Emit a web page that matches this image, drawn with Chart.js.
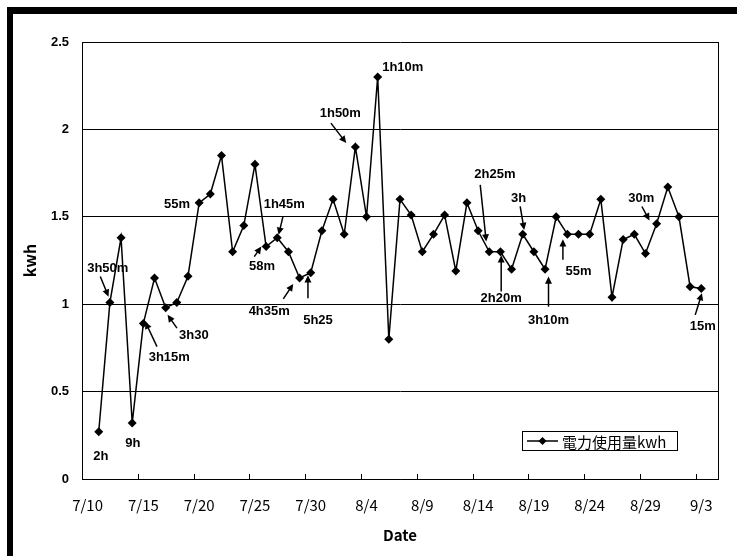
<!DOCTYPE html>
<html>
<head>
<meta charset="utf-8">
<script src="https://cdn.jsdelivr.net/npm/chart.js@4/dist/chart.umd.min.js"></script>
<style>
  body { margin: 0; background: #fff; }
  #wrap { position: relative; width: 737px; height: 556px; overflow: hidden; }
  #frame { position: absolute; left: 7px; top: 7px; width: 740px; height: 560px;
           border-left: 6px solid #000; border-top: 7px solid #000; }
  #c { position: absolute; left: 0; top: 0; }
</style>
</head>
<body>
<div id="wrap">
  <div id="frame"></div>
  <canvas id="c" width="737" height="556"></canvas>
</div>
<script>
// one category per day, 7/10 .. 9/4
var dates = ['7/10','7/11','7/12','7/13','7/14','7/15','7/16','7/17','7/18','7/19','7/20',
  '7/21','7/22','7/23','7/24','7/25','7/26','7/27','7/28','7/29','7/30','7/31',
  '8/1','8/2','8/3','8/4','8/5','8/6','8/7','8/8','8/9','8/10','8/11','8/12','8/13','8/14',
  '8/15','8/16','8/17','8/18','8/19','8/20','8/21','8/22','8/23','8/24','8/25','8/26','8/27',
  '8/28','8/29','8/30','8/31','9/1','9/2','9/3','9/4'];

// daily power use (kwh)
var usage = [null, 0.27, 1.01, 1.38, 0.32, 0.89, 1.15, 0.98, 1.01, 1.16, 1.58,
  1.63, 1.85, 1.30, 1.45, 1.80, 1.33, 1.38, 1.30, 1.15, 1.18,
  1.42, 1.60, 1.40, 1.90, 1.50, 2.30, 0.80, 1.60, 1.51, 1.30,
  1.40, 1.51, 1.19, 1.58, 1.42, 1.30, 1.30, 1.20, 1.40, 1.30,
  1.20, 1.50, 1.40, 1.40, 1.40, 1.60, 1.04, 1.37, 1.40, 1.29,
  1.46, 1.67, 1.50, 1.10, 1.09, null];

var yTicks = [0, 0.5, 1, 1.5, 2, 2.5];
var labelEvery = 5;
var seriesName = '電力使用量kwh';

// usage-time notes: text spot and optional arrow, in (category index, kwh)
var notes = [
  {text: '3h50m', at: [1.81, 1.206], arrow: [[1.14, 1.158], [1.88, 1.043]]},
  {text: '2h',    at: [1.18, 0.128]},
  {text: '9h',    at: [4.05, 0.206]},
  {text: '3h15m', at: [7.32, 0.693], arrow: [[6.22, 0.757], [5.17, 0.900]]},
  {text: '3h30',  at: [9.52, 0.824], arrow: [[8.01, 0.863], [7.17, 0.939]]},
  {text: '55m',   at: [8.01, 1.568]},
  {text: '1h45m', at: [17.63, 1.568], arrow: [[17.51, 1.501], [17.12, 1.397]]},
  {text: '58m',   at: [15.63, 1.215], arrow: [[14.94, 1.272], [15.57, 1.330]]},
  {text: '4h35m', at: [16.28, 0.958], arrow: [[17.54, 1.030], [18.43, 1.116]]},
  {text: '5h25',  at: [20.65, 0.910], arrow: [[19.75, 1.034], [19.75, 1.165]]},
  {text: '1h50m', at: [22.65, 2.093], arrow: [[21.81, 2.036], [23.18, 1.922]]},
  {text: '1h10m', at: [28.25, 2.354]},
  {text: '2h25m', at: [36.51, 1.740], arrow: [[35.19, 1.683], [35.73, 1.358]]},
  {text: '2h20m', at: [37.07, 1.034], arrow: [[37.07, 1.072], [37.07, 1.280]]},
  {text: '3h',    at: [38.62, 1.607], arrow: [[38.77, 1.559], [39.13, 1.425]]},
  {text: '3h10m', at: [41.31, 0.910], arrow: [[41.31, 0.986], [41.31, 1.158]]},
  {text: '55m',   at: [44.0, 1.187],  arrow: [[42.6, 1.254], [42.6, 1.372]]},
  {text: '30m',   at: [49.62, 1.607], arrow: [[49.68, 1.559], [50.36, 1.479]]},
  {text: '15m',   at: [55.13, 0.872], arrow: [[54.46, 0.939], [55.06, 1.063]]}
];

function arrow(ctx, x1, y1, x2, y2) {
    var a = Math.atan2(y2 - y1, x2 - x1);
    var h = 8;
    ctx.beginPath();
    ctx.moveTo(x1, y1);
    ctx.lineTo(x2 - Math.cos(a) * h * 0.7, y2 - Math.sin(a) * h * 0.7);
    ctx.stroke();
    ctx.beginPath();
    ctx.moveTo(x2, y2);
    ctx.lineTo(x2 - h * Math.cos(a - 0.45), y2 - h * Math.sin(a - 0.45));
    ctx.lineTo(x2 - h * Math.cos(a + 0.45), y2 - h * Math.sin(a + 0.45));
    ctx.closePath();
    ctx.fill();
}

var extras = {
    id: 'extras',
    afterDraw: function(chart) {
        var ctx = chart.ctx, area = chart.chartArea;
        var x = chart.scales.x, y = chart.scales.y;
        ctx.save();
        ctx.strokeStyle = '#000';
        ctx.fillStyle = '#000';
        ctx.lineWidth = 1;

        // plot frame right side
        ctx.beginPath();
        ctx.moveTo(area.right + 0.5, area.top);
        ctx.lineTo(area.right + 0.5, area.bottom);
        ctx.stroke();

        // inside tick marks on the date axis, between categories
        for (var i = labelEvery; i < dates.length; i += labelEvery) {
            var px = Math.round((x.getPixelForValue(i - 1) + x.getPixelForValue(i)) / 2) + 0.5;
            ctx.beginPath();
            ctx.moveTo(px, area.bottom);
            ctx.lineTo(px, area.bottom - 5);
            ctx.stroke();
        }

        // notes
        ctx.font = 'bold 13px "Liberation Sans", Arial, sans-serif';
        ctx.textAlign = 'center';
        ctx.textBaseline = 'middle';
        ctx.lineWidth = 1.5;
        notes.forEach(function(n) {
            ctx.fillText(n.text, x.getPixelForValue(n.at[0]), y.getPixelForValue(n.at[1]));
            if (n.arrow) {
                arrow(ctx,
                    x.getPixelForValue(n.arrow[0][0]), y.getPixelForValue(n.arrow[0][1]),
                    x.getPixelForValue(n.arrow[1][0]), y.getPixelForValue(n.arrow[1][1]));
            }
        });

        // legend box
        var bx = area.right - 196, by = area.bottom - 48, bw = 155, bh = 19;
        ctx.lineWidth = 1;
        ctx.fillStyle = '#fff';
        ctx.fillRect(bx, by, bw, bh);
        ctx.strokeRect(bx + 0.5, by + 0.5, bw, bh);
        ctx.fillStyle = '#000';
        ctx.lineWidth = 1.5;
        var ly = by + bh / 2 + 0.5;
        ctx.beginPath();
        ctx.moveTo(bx + 5, ly);
        ctx.lineTo(bx + 36, ly);
        ctx.stroke();
        ctx.beginPath();
        ctx.moveTo(bx + 20.5, ly - 4);
        ctx.lineTo(bx + 24.5, ly);
        ctx.lineTo(bx + 20.5, ly + 4);
        ctx.lineTo(bx + 16.5, ly);
        ctx.closePath();
        ctx.fill();
        ctx.font = '15px "Noto Sans CJK JP", sans-serif';
        ctx.textAlign = 'left';
        ctx.fillText(chart.data.datasets[0].label, bx + 40, ly + 1);
        ctx.restore();
    }
};

var ctx = document.getElementById('c').getContext('2d');
var usageChart = new Chart(ctx, {
    type: 'line',
    data: {
        labels: dates,
        datasets: [{
            label: seriesName,
            data: usage,
            borderColor: '#000',
            backgroundColor: '#000',
            borderWidth: 1.5,
            pointStyle: 'rectRot',
            pointRadius: 4.5,
            pointBorderWidth: 0,
            tension: 0
        }]
    },
    options: {
        responsive: false,
        animation: false,
        devicePixelRatio: 1,
        layout: { padding: { left: 0, top: 42, right: 19, bottom: 0 } },
        plugins: {
            legend: { display: false },
            tooltip: { enabled: false }
        },
        scales: {
            x: {
                type: 'category',
                offset: true,
                grid: { display: false, drawTicks: false },
                border: { display: true, color: '#000', width: 1 },
                ticks: {
                    autoSkip: false,
                    maxRotation: 0,
                    minRotation: 0,
                    padding: 17,
                    color: '#000',
                    font: { family: '"Noto Sans CJK JP", sans-serif', size: 15 },
                    callback: function(v, i) { return i % labelEvery === 0 ? dates[i] : ''; }
                },
                title: {
                    display: true,
                    text: 'Date',
                    color: '#000',
                    font: { family: '"Noto Sans CJK JP", sans-serif', size: 15, weight: 'bold', lineHeight: 1.2 },
                    padding: { top: 0, bottom: 12 }
                },
                afterFit: function(s) { s.height = 77; }
            },
            y: {
                min: 0,
                max: 2.5,
                afterBuildTicks: function(s) { s.ticks = yTicks.map(function(v) { return {value: v}; }); },
                grid: { color: '#000', lineWidth: 1, drawTicks: false },
                border: { display: true, color: '#000', width: 1 },
                ticks: {
                    padding: 13,
                    color: '#000',
                    font: { family: '"Liberation Sans", Arial, sans-serif', size: 13, weight: 'bold' },
                    callback: function(v) { return String(v); }
                },
                title: {
                    display: true,
                    text: 'kwh',
                    color: '#000',
                    font: { family: '"Noto Sans CJK JP", sans-serif', size: 16, weight: 'bold', lineHeight: 1.2 },
                    padding: { top: 20, bottom: 0 }
                },
                afterFit: function(s) { s.width = 82; }
            }
        }
    },
    plugins: [extras]
});
</script>
</body>
</html>
